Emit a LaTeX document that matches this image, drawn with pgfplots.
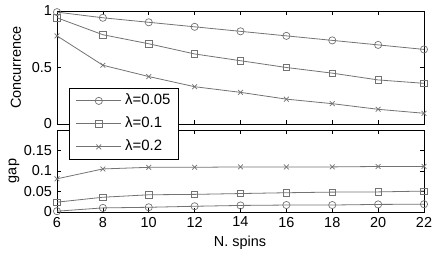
\documentclass[border=0pt]{standalone}
\usepackage{pgfplots}
\pgfplotsset{compat=1.18}
\usepackage{fontspec}
\setmainfont{Liberation Sans}
\definecolor{ln}{gray}{0.45}
\begin{document}
\fontsize{14.5}{16}\selectfont
\begin{tikzpicture}
\path[use as bounding box] (0,0) rectangle (436bp,260bp);
\pgfplotsset{
  every axis/.append style={
    scale only axis, width=367bp,
    xmin=6, xmax=22, xtick={6,8,...,22},
    tick align=inside, major tick length=4bp,
    axis line style={line width=0.9bp},
    every tick/.style={black, line width=0.7bp},
    /pgf/number format/assume math mode=true,
    font=\fontsize{14.5}{16}\selectfont,
    tick label style={font=\fontsize{14.5}{16}\selectfont},
    label style={font=\fontsize{14.5}{16}\selectfont},
  },
  ser/.style={color=ln, line width=0.8bp, mark options={solid, fill=none, line width=0.7bp}},
}
% bottom axis (gap)
\begin{axis}[
  at={(57bp,48bp)}, anchor=south west, height=82bp,
  ymin=0, ymax=0.2, ytick={0,0.05,0.1,0.15},
  yticklabels={0,0.05,0.1,0.15},
  xlabel={N. spins},
  x label style={at={(axis description cs:0.4986,0)}, yshift=-31bp, anchor=center},
  ylabel={gap},
  y label style={at={(axis description cs:-0.117,0.5)}, anchor=center},
]
\addplot[ser, mark=o, mark size=3.6bp] coordinates {(6,0.002) (8,0.010) (10,0.0115) (12,0.014) (14,0.016) (16,0.017) (18,0.017) (20,0.0185) (22,0.019)};
\addplot[ser, mark=square, mark size=3.2bp] coordinates {(6,0.024) (8,0.036) (10,0.042) (12,0.043) (14,0.045) (16,0.047) (18,0.0485) (20,0.049) (22,0.051)};
\addplot[ser, mark=x, mark size=3.4bp] coordinates {(6,0.081) (8,0.105) (10,0.109) (12,0.109) (14,0.110) (16,0.110) (18,0.110) (20,0.111) (22,0.111)};
\end{axis}
% top axis (concurrence)
\begin{axis}[
  at={(57bp,136bp)}, anchor=south west, height=113bp,
  ymin=0, ymax=1, ytick={0,0.5,1}, yticklabels={0,0.5,1},
  xticklabels={},
  ylabel={Concurrence},
  y label style={at={(axis description cs:-0.112,0.5)}, anchor=center},
  legend cell align=left,
  legend style={at={(axis description cs:0.0327,0.3186)}, anchor=north west,
    draw=black, line width=0.8bp, fill=white, inner xsep=6.5bp, inner ysep=4.5bp,
    row sep=7bp, column sep=2bp, font=\fontsize{15}{17}\selectfont,
    nodes={inner sep=1.5bp, text height=10bp, text depth=3bp}},
  legend image code/.code={\draw[mark repeat=2,mark phase=2,#1] plot coordinates {(0bp,0bp) (22.5bp,0bp) (45bp,0bp)};},
]
\addplot[ser, mark=o, mark size=3.6bp] coordinates {(6,0.99) (8,0.94) (10,0.90) (12,0.86) (14,0.82) (16,0.78) (18,0.74) (20,0.70) (22,0.66)};
\addlegendentry{λ=0.05}
\addplot[ser, mark=square, mark size=3.2bp] coordinates {(6,0.94) (8,0.79) (10,0.71) (12,0.62) (14,0.56) (16,0.50) (18,0.45) (20,0.39) (22,0.36)};
\addlegendentry{λ=0.1}
\addplot[ser, mark=x, mark size=3.4bp] coordinates {(6,0.78) (8,0.52) (10,0.42) (12,0.33) (14,0.28) (16,0.22) (18,0.18) (20,0.13) (22,0.095)};
\addlegendentry{λ=0.2}
\end{axis}
\end{tikzpicture}
\end{document}
